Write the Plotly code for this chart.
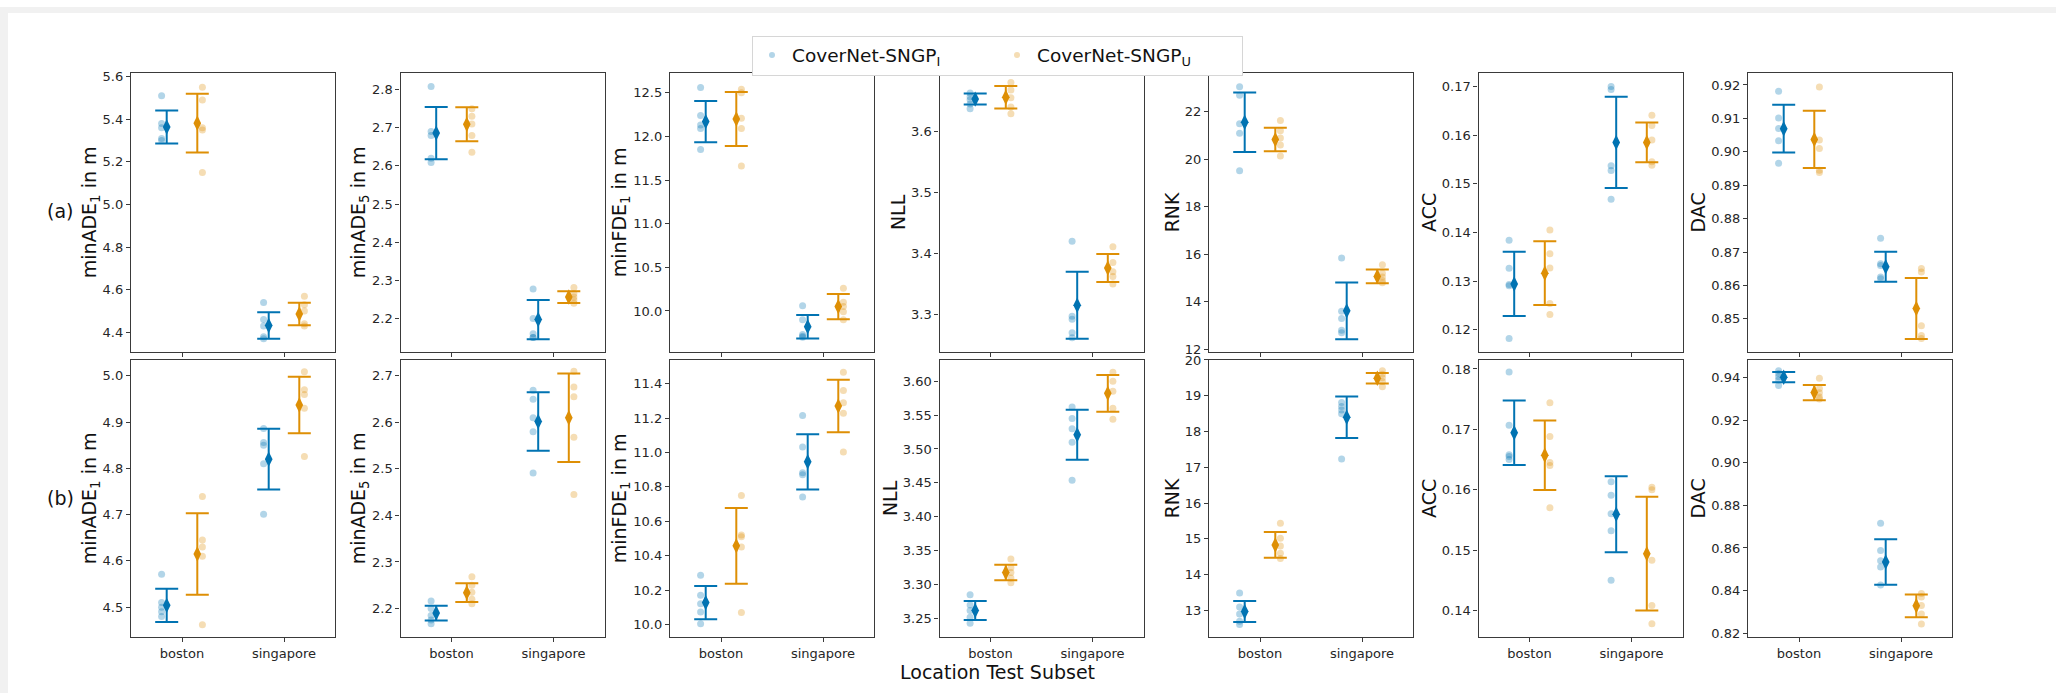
import plotly.graph_objects as go

W, H = 2056, 698

CITIES = ["boston", "singapore"]
MODELS = ["CoverNet-SNGP<sub>I</sub>", "CoverNet-SNGP<sub>U</sub>"]
METRIC_LABELS = ["minADE<sub>1</sub> in m", "minADE<sub>5</sub> in m", "minFDE<sub>1</sub> in m",
                 "NLL", "RNK", "ACC", "DAC"]
ROW_LABELS = ["(a)", "(b)"]
X_TITLE = "Location Test Subset"

# ---- row (a): mean / std over runs, per model [I, U] x city [boston, singapore]
a_minade1_mean = [[5.364, 4.432], [5.382, 4.486]]
a_minade1_sd = [[0.077, 0.0625], [0.1375, 0.0525]]
a_minade1_runs = [[[5.51, 5.38, 5.36, 5.31, 5.30], [4.54, 4.46, 4.43, 4.38, 4.37]],
                  [[5.55, 5.49, 5.36, 5.35, 5.15], [4.57, 4.53, 4.50, 4.44, 4.43]]]

a_minade5_mean = [[2.686, 2.197], [2.709, 2.256]]
a_minade5_sd = [[0.0685, 0.0515], [0.0445, 0.0155]]
a_minade5_runs = [[[2.808, 2.69, 2.68, 2.62, 2.609], [2.277, 2.20, 2.16, 2.15, 2.15]],
                  [[2.75, 2.73, 2.71, 2.68, 2.636], [2.281, 2.265, 2.256, 2.248, 2.24]]]

a_minfde1_mean = [[12.17, 9.82], [12.20, 10.05]]
a_minfde1_sd = [[0.235, 0.135], [0.31, 0.145]]
a_minfde1_runs = [[[12.56, 12.24, 12.13, 12.09, 11.85], [10.06, 9.90, 9.73, 9.71, 9.70]],
                  [[12.54, 12.50, 12.21, 12.09, 11.66], [10.26, 10.10, 10.05, 9.99, 9.90]]]

a_nll_mean = [[3.653, 3.315], [3.656, 3.376]]
a_nll_sd = [[0.009, 0.055], [0.0185, 0.023]]
a_nll_runs = [[[3.663, 3.657, 3.652, 3.645, 3.637], [3.420, 3.297, 3.292, 3.27, 3.262]],
              [[3.680, 3.668, 3.655, 3.64, 3.629], [3.411, 3.385, 3.37, 3.362, 3.35]]]

a_rnk_mean = [[21.56, 13.62], [20.83, 15.07]]
a_rnk_sd = [[1.255, 1.19], [0.495, 0.29]]
a_rnk_runs = [[[23.06, 22.7, 21.5, 21.1, 19.52], [15.85, 13.6, 13.3, 12.8, 12.7]],
              [[21.63, 21.2, 20.9, 20.6, 20.14], [15.56, 15.2, 15.05, 14.9, 14.8]]]

a_acc_mean = [[0.1294, 0.1585], [0.1316, 0.1585]]
a_acc_sd = [[0.0066, 0.0094], [0.00655, 0.0041]]
a_acc_runs = [[[0.1384, 0.1326, 0.1293, 0.1290, 0.1182], [0.1700, 0.1694, 0.1537, 0.1527, 0.1468]],
              [[0.1405, 0.1356, 0.1327, 0.1254, 0.1231], [0.1641, 0.1620, 0.1590, 0.1545, 0.1538]]]

a_dac_mean = [[0.9069, 0.8656], [0.9037, 0.8531]]
a_dac_sd = [[0.00715, 0.0045], [0.00855, 0.0091]]
a_dac_runs = [[[0.9181, 0.9101, 0.9070, 0.9033, 0.8966], [0.8741, 0.8665, 0.8660, 0.8625, 0.8620]],
              [[0.9194, 0.9035, 0.9010, 0.8945, 0.8938], [0.8651, 0.8640, 0.8479, 0.8450, 0.8441]]]

# ---- row (b)
b_minade1_mean = [[4.504, 4.820], [4.615, 4.937]]
b_minade1_sd = [[0.036, 0.0655], [0.088, 0.061]]
b_minade1_runs = [[[4.571, 4.51, 4.50, 4.49, 4.48], [4.886, 4.856, 4.85, 4.81, 4.701]],
                  [[4.739, 4.645, 4.63, 4.61, 4.462], [5.009, 4.97, 4.96, 4.93, 4.826]]]

b_minade5_mean = [[2.190, 2.602], [2.234, 2.610]]
b_minade5_sd = [[0.016, 0.063], [0.02, 0.095]]
b_minade5_runs = [[[2.216, 2.20, 2.185, 2.175, 2.167], [2.669, 2.65, 2.61, 2.58, 2.491]],
                  [[2.268, 2.25, 2.235, 2.22, 2.21], [2.71, 2.676, 2.655, 2.568, 2.445]]]

b_minfde1_mean = [[10.127, 10.946], [10.457, 11.270]]
b_minfde1_sd = [[0.097, 0.1605], [0.22, 0.1525]]
b_minfde1_runs = [[[10.286, 10.17, 10.12, 10.072, 10.004], [11.215, 11.032, 10.882, 10.87, 10.741]],
                  [[10.75, 10.52, 10.51, 10.45, 10.07], [11.467, 11.36, 11.29, 11.229, 11.003]]]

b_nll_mean = [[3.262, 3.521], [3.318, 3.582]]
b_nll_sd = [[0.014, 0.037], [0.0115, 0.027]]
b_nll_runs = [[[3.285, 3.27, 3.262, 3.252, 3.243], [3.562, 3.545, 3.53, 3.51, 3.454]],
              [[3.338, 3.325, 3.318, 3.31, 3.303], [3.613, 3.60, 3.585, 3.56, 3.544]]]

b_rnk_mean = [[12.97, 18.40], [14.83, 19.49]]
b_rnk_sd = [[0.295, 0.58], [0.36, 0.145]]
b_rnk_runs = [[[13.49, 13.1, 12.9, 12.7, 12.61], [18.81, 18.7, 18.6, 18.5, 17.23]],
              [[15.44, 15.02, 14.8, 14.6, 14.45], [19.70, 19.6, 19.5, 19.4, 19.25]]]

b_acc_mean = [[0.16945, 0.15593], [0.16570, 0.14940]]
b_acc_sd = [[0.00535, 0.0063], [0.00576, 0.00943]]
b_acc_runs = [[[0.1795, 0.1707, 0.1658, 0.1655, 0.1650], [0.1613, 0.1591, 0.1560, 0.1532, 0.1450]],
              [[0.1744, 0.1688, 0.1645, 0.1640, 0.1570], [0.1604, 0.1600, 0.1483, 0.1408, 0.1378]]]

b_dac_mean = [[0.94028, 0.8534], [0.93307, 0.8328]]
b_dac_sd = [[0.0024, 0.0107], [0.0036, 0.00535]]
b_dac_runs = [[[0.9433, 0.9420, 0.9405, 0.9390, 0.9364], [0.8716, 0.8588, 0.8540, 0.8510, 0.8426]],
              [[0.9398, 0.9350, 0.9330, 0.9310, 0.9300], [0.8386, 0.8370, 0.8330, 0.8290, 0.8243]]]

PANELS = [
    [(a_minade1_mean, a_minade1_sd, a_minade1_runs), (a_minade5_mean, a_minade5_sd, a_minade5_runs),
     (a_minfde1_mean, a_minfde1_sd, a_minfde1_runs), (a_nll_mean, a_nll_sd, a_nll_runs),
     (a_rnk_mean, a_rnk_sd, a_rnk_runs), (a_acc_mean, a_acc_sd, a_acc_runs),
     (a_dac_mean, a_dac_sd, a_dac_runs)],
    [(b_minade1_mean, b_minade1_sd, b_minade1_runs), (b_minade5_mean, b_minade5_sd, b_minade5_runs),
     (b_minfde1_mean, b_minfde1_sd, b_minfde1_runs), (b_nll_mean, b_nll_sd, b_nll_runs),
     (b_rnk_mean, b_rnk_sd, b_rnk_runs), (b_acc_mean, b_acc_sd, b_acc_runs),
     (b_dac_mean, b_dac_sd, b_dac_runs)],
]

# y-axis setup per panel: (range, tick step, tick format)
Y_AXES = [
    [([4.308, 5.618], 0.2, ".1f"), ([2.112, 2.844], 0.1, ".1f"), ([9.530, 12.729], 0.5, ".1f"),
     ([3.2385, 3.696], 0.1, ".1f"), ([11.89, 23.64], 2, "d"), ([0.11541, 0.1728], 0.01, ".2f"),
     ([0.84009, 0.92362], 0.01, ".2f")],
    [([4.4356, 5.0347], 0.1, ".1f"), ([2.1387, 2.7345], 0.1, ".1f"), ([9.927, 11.539], 0.2, ".1f"),
     ([3.2229, 3.6314], 0.05, ".2f"), ([12.259, 20.004], 1, "d"), ([0.1356, 0.18152], 0.01, ".2f"),
     ([0.81815, 0.94846], 0.02, ".2f")],
]

# ---- styling
COLORS = ["#0173b2", "#de8f05"]
MEAN_OFFSET = [-0.15, 0.15]
RUN_OFFSET = [-0.2, 0.2]
FONT = "DejaVu Sans"
TEXT = "#262626"
SPINE = "#3a3a3a"
FRAME_GRAY = "#f1f1f1"
PANEL_LEFT0, PANEL_STEP, PANEL_W = 131, 269.5, 204
ROW_PX = [(67, 351), (359, 641)]

fig = go.Figure()
layout = {}

# legend-only handles (small faded dots)
for m in range(2):
    fig.add_trace(go.Scatter(
        x=[None], y=[None], mode="markers", xaxis="x1", yaxis="y1",
        marker=dict(color=COLORS[m], size=6, opacity=0.3, line=dict(width=0)),
        name=MODELS[m], legendgroup=MODELS[m], showlegend=True,
    ))

for r in range(2):
    for c in range(7):
        n = r * 7 + c + 1
        xa, ya = f"x{n}", f"y{n}"
        mean, sd, runs = PANELS[r][c]
        for m in range(2):
            xs, ys = [], []
            for k, city in enumerate(CITIES):
                xs += [k + RUN_OFFSET[m]] * len(runs[m][k])
                ys += runs[m][k]
            fig.add_trace(go.Scatter(
                x=xs, y=ys, mode="markers", xaxis=xa, yaxis=ya,
                marker=dict(color=COLORS[m], size=7, opacity=0.3, line=dict(width=0)),
                legendgroup=MODELS[m], showlegend=False,
            ))
            fig.add_trace(go.Scatter(
                x=[k + MEAN_OFFSET[m] for k in range(len(CITIES))], y=mean[m],
                mode="markers", xaxis=xa, yaxis=ya,
                marker=dict(color=COLORS[m], size=11, symbol="diamond-tall", line=dict(width=0)),
                error_y=dict(type="data", array=sd[m], visible=True, color=COLORS[m],
                             thickness=2, width=11.5),
                legendgroup=MODELS[m], showlegend=False,
            ))

        x0 = (PANEL_LEFT0 + c * PANEL_STEP) / W
        x1 = (PANEL_LEFT0 + c * PANEL_STEP + PANEL_W) / W
        top, bot = ROW_PX[r]
        yr, dt, fmt = Y_AXES[r][c]
        common = dict(showline=True, mirror=True, linecolor=SPINE, linewidth=1.3,
                      ticks="outside", ticklen=4, tickwidth=1, tickcolor=SPINE,
                      showgrid=False, zeroline=False,
                      tickfont=dict(family=FONT, size=13, color=TEXT))
        layout[f"xaxis{n}"] = dict(
            domain=[x0, x1], anchor=ya, range=[-0.5, 1.5],
            tickmode="array", tickvals=list(range(len(CITIES))), ticktext=CITIES,
            showticklabels=(r == 1), **common)
        layout[f"yaxis{n}"] = dict(
            domain=[1 - bot / H, 1 - top / H], anchor=xa, range=yr,
            tick0=0, dtick=dt, tickformat=fmt,
            title=dict(text=METRIC_LABELS[c], standoff=0,
                       font=dict(family=FONT, size=19, color="#111")),
            **common)

label_font = dict(family=FONT, size=19, color="#111")
annotations = [
    dict(text=ROW_LABELS[0], x=60 / W, y=1 - 208 / H, xref="paper", yref="paper",
         xanchor="center", yanchor="middle", showarrow=False, font=label_font),
    dict(text=ROW_LABELS[1], x=60 / W, y=1 - 500 / H, xref="paper", yref="paper",
         xanchor="center", yanchor="middle", showarrow=False, font=label_font),
    dict(text=X_TITLE, x=997 / W, y=1 - 677 / H, xref="paper", yref="paper",
         xanchor="center", yanchor="middle", showarrow=False, font=label_font),
]

# thin gray band along the top and left edges of the canvas
frame = [
    dict(type="rect", xref="paper", yref="paper", x0=0, x1=1, y0=1 - 6 / H, y1=1,
         fillcolor=FRAME_GRAY, line=dict(width=0), layer="below"),
    dict(type="rect", xref="paper", yref="paper", x0=0, x1=8 / W, y0=0, y1=1,
         fillcolor=FRAME_GRAY, line=dict(width=0), layer="below"),
]

fig.update_layout(
    width=W, height=H, margin=dict(l=0, r=0, t=0, b=0),
    paper_bgcolor="white", plot_bgcolor="white",
    font=dict(family=FONT, color=TEXT),
    shapes=frame,
    annotations=annotations,
    legend=dict(orientation="h", x=997.5 / W, xanchor="center", y=1 - 29 / H, yanchor="top",
                bgcolor="white", bordercolor="#d6d6d6", borderwidth=1,
                font=dict(family=FONT, size=18.5, color="#111"), entrywidth=200),
    showlegend=True,
    **layout,
)

# keep the page flush with the figure (no body margin, no scrollbars)
PAGE_JS = ("document.documentElement.style.overflow='hidden';"
           "document.documentElement.style.margin='0';"
           "document.body.style.overflow='hidden';"
           "document.body.style.margin='0';")
fig.write_html("out.html", post_script=PAGE_JS)
